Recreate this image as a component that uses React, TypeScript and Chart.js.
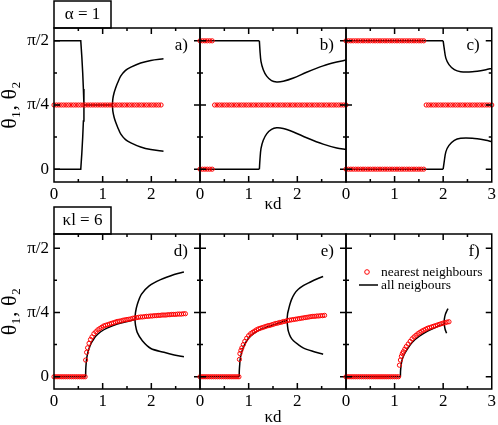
import React, { useEffect, useRef } from 'react';
import { Chart, registerables } from 'chart.js';

Chart.register(...registerables);

type Pt = [number, number];

const SERIF = '"Liberation Serif", "Times New Roman", Times, serif';

// ---------- tick labels / texts ----------
const xTickValues = [0, 1, 2, 3];
const xTickText = ['0', '1', '2', '3'];
const yTickValues = [0, 1, 2]; // in units of pi/4
const yTickText = ['0', 'π/4', 'π/2'];
const xTickMarks = [0.5, 1, 1.5, 2, 2.5];
const yTickMarks = [0, 0.5, 1, 1.5, 2];
const panelLabels = ['a)', 'b)', 'c)', 'd)', 'e)', 'f)'];
const boxLabels = ['α = 1', 'κl = 6'];
const legendLabels = ['nearest neighbours', 'all neigbours'];
const xTitle = 'κd';
const yTitle = 'θ₁, θ₂';

// ---------- panel a (alpha = 1) ----------
const aRedX = [0, 0.05, 0.1, 0.15, 0.2, 0.25, 0.3, 0.35, 0.4, 0.45, 0.5, 0.55, 0.6, 0.65, 0.7, 0.75, 0.8, 0.85, 0.9, 0.95, 1, 1.05, 1.1, 1.15, 1.2, 1.25, 1.3, 1.35, 1.4, 1.45, 1.5, 1.55, 1.6, 1.65, 1.7, 1.75, 1.8, 1.85, 1.9, 1.95, 2, 2.05, 2.1, 2.15, 2.2];
const aBlackTop: Pt[] = [[0, 2], [0.55, 2], [0.572, 1.75], [0.59, 1.5], [0.604, 1.25], [0.615, 1]];
const aBlackBottom: Pt[] = [[0, 0], [0.55, 0], [0.572, 0.25], [0.59, 0.5], [0.604, 0.75], [0.615, 1]];
const aBlackMid: Pt[] = [[0.615, 1], [1.2, 1]];
const aBranchTop: Pt[] = [[1.2, 1], [1.21, 1.1], [1.235, 1.19], [1.268, 1.27], [1.31, 1.35], [1.37, 1.45], [1.47, 1.54], [1.58, 1.59], [1.78, 1.655], [1.99, 1.695], [2.25, 1.72]];
const aBranchBottom: Pt[] = [[1.2, 1], [1.21, 0.9], [1.235, 0.81], [1.268, 0.73], [1.31, 0.65], [1.37, 0.55], [1.47, 0.46], [1.58, 0.41], [1.78, 0.345], [1.99, 0.305], [2.25, 0.28]];

// ---------- panel b ----------
const bRedEdgeX = [0, 0.05, 0.1, 0.15, 0.2, 0.25];
const bRedMidX = [0.3, 0.35, 0.4, 0.45, 0.5, 0.55, 0.6, 0.65, 0.7, 0.75, 0.8, 0.85, 0.9, 0.95, 1, 1.05, 1.1, 1.15, 1.2, 1.25, 1.3, 1.35, 1.4, 1.45, 1.5, 1.55, 1.6, 1.65, 1.7, 1.75, 1.8, 1.85, 1.9, 1.95, 2, 2.05, 2.1, 2.15, 2.2, 2.25, 2.3, 2.35, 2.4, 2.45, 2.5, 2.55, 2.6, 2.65, 2.7, 2.75, 2.8, 2.85, 2.9, 2.95, 3];
const bFlatTop: Pt[] = [[0, 2], [1.22, 2]];
const bFlatBottom: Pt[] = [[0, 0], [1.22, 0]];
const bCurveTop: Pt[] = [[1.22, 2], [1.233, 1.84], [1.253, 1.68], [1.3, 1.55], [1.37, 1.45], [1.47, 1.38], [1.575, 1.36], [1.71, 1.37], [1.92, 1.42], [2.19, 1.51], [2.53, 1.61], [2.81, 1.67], [3, 1.7]];
const bCurveBottom: Pt[] = [[1.22, 0], [1.233, 0.16], [1.253, 0.32], [1.3, 0.45], [1.37, 0.55], [1.47, 0.62], [1.575, 0.645], [1.71, 0.635], [1.92, 0.58], [2.19, 0.49], [2.53, 0.39], [2.81, 0.33], [3, 0.31]];

// ---------- panel c ----------
const cRedEdgeX = [0, 0.05, 0.1, 0.15, 0.2, 0.25, 0.3, 0.35, 0.4, 0.45, 0.5, 0.55, 0.6, 0.65, 0.7, 0.75, 0.8, 0.85, 0.9, 0.95, 1, 1.05, 1.1, 1.15, 1.2, 1.25, 1.3, 1.35, 1.4, 1.45, 1.5, 1.55, 1.6];
const cRedMidX = [1.65, 1.7, 1.75, 1.8, 1.85, 1.9, 1.95, 2, 2.05, 2.1, 2.15, 2.2, 2.25, 2.3, 2.35, 2.4, 2.45, 2.5, 2.55, 2.6, 2.65, 2.7, 2.75, 2.8, 2.85, 2.9, 2.95, 3];
const cFlatTop: Pt[] = [[0, 2], [2.0, 2]];
const cFlatBottom: Pt[] = [[0, 0], [2.0, 0]];
const cCurveTop: Pt[] = [[2.0, 2], [2.02, 1.89], [2.055, 1.73], [2.12, 1.63], [2.23, 1.55], [2.36, 1.52], [2.6, 1.52], [2.88, 1.55], [3, 1.57]];
const cCurveBottom: Pt[] = [[2.0, 0], [2.02, 0.11], [2.055, 0.27], [2.12, 0.37], [2.23, 0.45], [2.36, 0.48], [2.6, 0.48], [2.88, 0.45], [3, 0.43]];

// ---------- panel d (kappa l = 6) ----------
const dRedFlatX = [0, 0.04, 0.08, 0.12, 0.16, 0.2, 0.24, 0.28, 0.32, 0.36, 0.4, 0.44, 0.48, 0.52, 0.56, 0.6, 0.64];
const dRedRise: Pt[] = [[0.65, 0.26], [0.67, 0.38], [0.69, 0.45], [0.72, 0.52], [0.75, 0.58], [0.78, 0.62], [0.82, 0.67], [0.86, 0.7], [0.9, 0.73], [0.94, 0.75], [0.98, 0.77], [1.02, 0.79], [1.06, 0.8], [1.1, 0.81], [1.14, 0.82], [1.18, 0.83], [1.22, 0.84], [1.26, 0.85], [1.3, 0.86], [1.34, 0.865], [1.38, 0.87], [1.42, 0.88], [1.46, 0.885], [1.5, 0.89], [1.54, 0.895], [1.58, 0.9], [1.62, 0.91], [1.66, 0.915], [1.7, 0.92], [1.74, 0.925], [1.78, 0.93], [1.82, 0.93], [1.86, 0.935], [1.9, 0.94], [1.94, 0.94], [1.98, 0.945], [2.02, 0.945], [2.06, 0.95], [2.1, 0.95], [2.14, 0.955], [2.18, 0.955], [2.22, 0.96], [2.26, 0.96], [2.3, 0.96], [2.34, 0.965], [2.38, 0.965], [2.42, 0.97], [2.46, 0.97], [2.5, 0.97], [2.54, 0.975], [2.58, 0.975], [2.62, 0.975], [2.66, 0.98], [2.7, 0.98]];
const dBlackFlat: Pt[] = [[0, 0], [0.65, 0]];
const dBlackRise: Pt[] = [[0.65, 0], [0.652, 0.1], [0.66, 0.2], [0.675, 0.3], [0.7, 0.39], [0.735, 0.47], [0.77, 0.53], [0.81, 0.58], [0.856, 0.63], [0.96, 0.7], [1.1, 0.76], [1.3, 0.82], [1.51, 0.86], [1.665, 0.89]];
const dBranch: Pt[] = [[2.67, 0.31], [2.47, 0.34], [2.26, 0.38], [1.99, 0.44], [1.815, 0.56], [1.71, 0.69], [1.675, 0.8], [1.665, 0.89], [1.675, 1.0], [1.71, 1.12], [1.795, 1.28], [1.95, 1.41], [2.19, 1.51], [2.47, 1.59], [2.67, 1.63]];

// ---------- panel e ----------
const eRedFlatX = [0, 0.04, 0.08, 0.12, 0.16, 0.2, 0.24, 0.28, 0.32, 0.36, 0.4, 0.44, 0.48, 0.52, 0.56, 0.6, 0.64, 0.68, 0.72, 0.76, 0.8];
const eRedRise: Pt[] = [[0.81, 0.27], [0.82, 0.36], [0.84, 0.41], [0.86, 0.45], [0.89, 0.5], [0.92, 0.55], [0.96, 0.6], [1.0, 0.64], [1.04, 0.67], [1.08, 0.69], [1.12, 0.71], [1.16, 0.73], [1.2, 0.745], [1.24, 0.755], [1.28, 0.765], [1.32, 0.775], [1.36, 0.785], [1.4, 0.795], [1.44, 0.8], [1.48, 0.81], [1.52, 0.82], [1.56, 0.83], [1.6, 0.835], [1.64, 0.845], [1.68, 0.85], [1.72, 0.86], [1.76, 0.865], [1.8, 0.875], [1.84, 0.88], [1.88, 0.885], [1.92, 0.89], [1.96, 0.895], [2.0, 0.9], [2.04, 0.905], [2.08, 0.91], [2.12, 0.915], [2.16, 0.92], [2.2, 0.925], [2.24, 0.93], [2.28, 0.935], [2.32, 0.94], [2.36, 0.94], [2.4, 0.945], [2.44, 0.945], [2.48, 0.95], [2.52, 0.95], [2.56, 0.955]];
const eBlackFlat: Pt[] = [[0, 0], [0.805, 0]];
const eBlackRise: Pt[] = [[0.805, 0], [0.808, 0.1], [0.815, 0.18], [0.825, 0.27], [0.856, 0.38], [0.91, 0.49], [0.99, 0.59], [1.1, 0.67], [1.23, 0.73], [1.44, 0.79], [1.64, 0.84], [1.79, 0.88]];
const eBranch: Pt[] = [[2.53, 0.35], [2.3, 0.4], [2.12, 0.45], [2.02, 0.5], [1.92, 0.56], [1.86, 0.62], [1.815, 0.71], [1.8, 0.78], [1.79, 0.88], [1.8, 0.98], [1.815, 1.03], [1.845, 1.12], [1.88, 1.2], [1.94, 1.29], [2.02, 1.36], [2.13, 1.42], [2.26, 1.47], [2.4, 1.52], [2.53, 1.56]];

// ---------- panel f ----------
const fRedFlatX = [0, 0.04, 0.08, 0.12, 0.16, 0.2, 0.24, 0.28, 0.32, 0.36, 0.4, 0.44, 0.48, 0.52, 0.56, 0.6, 0.64, 0.68, 0.72, 0.76, 0.8, 0.84, 0.88, 0.92, 0.96, 1.0, 1.04, 1.08];
const fRedRise: Pt[] = [[1.1, 0.18], [1.12, 0.26], [1.14, 0.32], [1.16, 0.36], [1.18, 0.39], [1.21, 0.43], [1.24, 0.47], [1.28, 0.51], [1.32, 0.55], [1.36, 0.59], [1.4, 0.62], [1.44, 0.645], [1.48, 0.67], [1.52, 0.69], [1.56, 0.71], [1.6, 0.725], [1.64, 0.74], [1.68, 0.755], [1.72, 0.765], [1.76, 0.775], [1.8, 0.785], [1.84, 0.795], [1.88, 0.805], [1.92, 0.815], [1.96, 0.825], [2.0, 0.835], [2.04, 0.84], [2.08, 0.85], [2.12, 0.855]];
const fBlackFlat: Pt[] = [[0, 0], [1.12, 0]];
const fBlackRise: Pt[] = [[1.12, 0], [1.122, 0.08], [1.13, 0.15], [1.15, 0.25], [1.2, 0.35], [1.27, 0.44], [1.37, 0.54], [1.51, 0.63], [1.68, 0.71], [1.85, 0.77], [2.02, 0.82]];
const fBranch: Pt[] = [[2.07, 0.675], [2.04, 0.74], [2.025, 0.8], [2.02, 0.84], [2.025, 0.9], [2.045, 0.97], [2.08, 1.03], [2.1, 1.06]];

// ---------- layout ----------
const W = 498;
const H = 425;
const COLS: [number, number][] = [[54, 200], [200, 346], [346, 492]];
const ROWS = [
  { top: 28, bottom: 182, ymin: -0.2, ymax: 2.2, titlePad: 3.4, padBottom: 207 },
  { top: 234, bottom: 389, ymin: -0.19, ymax: 2.22, titlePad: -2.6, padBottom: 0 },
];
const YW = 54;
const XH = 36;

interface LineDef { pts: Pt[]; tension: number }
interface PanelDef { col: number; row: number; reds: Pt[][]; lines: LineDef[] }

const withY = (xs: number[], y: number): Pt[] => xs.map((x) => [x, y] as Pt);

const PANELS: PanelDef[] = [
  {
    col: 0, row: 0,
    reds: [withY(aRedX, 1)],
    lines: [
      { pts: aBlackTop, tension: 0 }, { pts: aBlackBottom, tension: 0 }, { pts: aBlackMid, tension: 0 },
      { pts: aBranchTop, tension: 0.3 }, { pts: aBranchBottom, tension: 0.3 },
    ],
  },
  {
    col: 1, row: 0,
    reds: [withY(bRedEdgeX, 2), withY(bRedEdgeX, 0), withY(bRedMidX, 1)],
    lines: [
      { pts: bFlatTop, tension: 0 }, { pts: bFlatBottom, tension: 0 },
      { pts: bCurveTop, tension: 0.3 }, { pts: bCurveBottom, tension: 0.3 },
    ],
  },
  {
    col: 2, row: 0,
    reds: [withY(cRedEdgeX, 2), withY(cRedEdgeX, 0), withY(cRedMidX, 1)],
    lines: [
      { pts: cFlatTop, tension: 0 }, { pts: cFlatBottom, tension: 0 },
      { pts: cCurveTop, tension: 0.3 }, { pts: cCurveBottom, tension: 0.3 },
    ],
  },
  {
    col: 0, row: 1,
    reds: [withY(dRedFlatX, 0), dRedRise],
    lines: [{ pts: dBlackFlat, tension: 0 }, { pts: dBlackRise, tension: 0.3 }, { pts: dBranch, tension: 0.3 }],
  },
  {
    col: 1, row: 1,
    reds: [withY(eRedFlatX, 0), eRedRise],
    lines: [{ pts: eBlackFlat, tension: 0 }, { pts: eBlackRise, tension: 0.3 }, { pts: eBranch, tension: 0.3 }],
  },
  {
    col: 2, row: 1,
    reds: [withY(fRedFlatX, 0), fRedRise],
    lines: [{ pts: fBlackFlat, tension: 0 }, { pts: fBlackRise, tension: 0.3 }, { pts: fBranch, tension: 0.3 }],
  },
];

const RED = '#ff0000';
const POINT_R = 2.1;
const TICK_FONT = 17;

function decoPlugin(index: number, p: PanelDef) {
  return {
    id: 'deco' + index,
    afterDatasetsDraw(chart: any) {
      const { ctx, chartArea: ca, scales } = chart;
      const xs = scales.x;
      const ys = scales.y;
      ctx.save();
      ctx.strokeStyle = '#000';
      ctx.lineWidth = 1.5;
      ctx.strokeRect(ca.left, ca.top, ca.right - ca.left, ca.bottom - ca.top);
      ctx.beginPath();
      xTickMarks.forEach((v) => {
        const px = xs.getPixelForValue(v);
        const len = Number.isInteger(v) ? 6 : 3;
        ctx.moveTo(px, ca.bottom);
        ctx.lineTo(px, ca.bottom - len);
        ctx.moveTo(px, ca.top);
        ctx.lineTo(px, ca.top + len);
      });
      yTickMarks.forEach((v) => {
        const py = ys.getPixelForValue(v);
        const len = Number.isInteger(v) ? 6 : 3;
        ctx.moveTo(ca.left, py);
        ctx.lineTo(ca.left + len, py);
        ctx.moveTo(ca.right, py);
        ctx.lineTo(ca.right - len, py);
      });
      ctx.stroke();

      // panel label
      ctx.fillStyle = '#000';
      ctx.font = `17px ${SERIF}`;
      ctx.textAlign = 'right';
      ctx.textBaseline = 'middle';
      ctx.fillText(panelLabels[index], ca.right - 12, ca.top + 18);

      // parameter box
      if (p.col === 0) {
        ctx.lineWidth = 1.5;
        ctx.strokeRect(ca.left, ca.top - 27, 57, 27);
        ctx.font = `17px ${SERIF}`;
        ctx.textAlign = 'center';
        ctx.fillText(boxLabels[p.row], ca.left + 28.5, ca.top - 13);
      }

      // legend
      if (index === 5) {
        const lx = ca.left;
        const ly = ca.top;
        ctx.strokeStyle = RED;
        ctx.lineWidth = 1;
        ctx.beginPath();
        ctx.arc(lx + 21, ly + 38, 2.3, 0, Math.PI * 2);
        ctx.stroke();
        ctx.strokeStyle = '#000';
        ctx.lineWidth = 1.5;
        ctx.beginPath();
        ctx.moveTo(lx + 13, ly + 51);
        ctx.lineTo(lx + 32, ly + 51);
        ctx.stroke();
        ctx.font = `13.5px ${SERIF}`;
        ctx.textAlign = 'left';
        ctx.fillStyle = '#000';
        ctx.fillText(legendLabels[0], lx + 35, ly + 38);
        ctx.fillText(legendLabels[1], lx + 35, ly + 51);
      }
      ctx.restore();
    },
  };
}

function buildConfig(index: number, p: PanelDef): any {
  const [L, R] = COLS[p.col];
  const row = ROWS[p.row];
  const showY = p.col === 0;
  const showXTitle = p.col === 1;
  const lastCol = p.col === 2;

  const datasets: any[] = [];
  p.reds.forEach((pts) => {
    datasets.push({
      data: pts.map(([x, y]) => ({ x, y })),
      showLine: false,
      pointStyle: 'circle',
      pointRadius: POINT_R,
      borderWidth: 1,
      borderColor: RED,
      backgroundColor: 'rgba(0,0,0,0)',
      pointBackgroundColor: 'rgba(0,0,0,0)',
      clip: false,
    });
  });
  p.lines.forEach((l) => {
    datasets.push({
      data: l.pts.map(([x, y]) => ({ x, y })),
      showLine: true,
      pointRadius: 0,
      borderColor: '#000',
      borderWidth: 1.5,
      tension: l.tension,
      fill: false,
    });
  });

  return {
    type: 'scatter',
    data: { datasets },
    options: {
      animation: false,
      responsive: false,
      maintainAspectRatio: false,
      devicePixelRatio: 1,
      events: [],
      layout: {
        padding: { left: showY ? L - YW : L, right: W - R, top: row.top, bottom: row.padBottom },
      },
      plugins: { legend: { display: false }, tooltip: { enabled: false }, title: { display: false } },
      scales: {
        x: {
          type: 'linear',
          position: 'bottom',
          min: 0,
          max: 3,
          afterBuildTicks: (s: any) => {
            s.ticks = xTickValues.filter((v) => lastCol || v < 3).map((v) => ({ value: v }));
          },
          afterFit: (s: any) => {
            s.height = XH;
          },
          grid: { display: false, drawTicks: false },
          border: { display: false },
          ticks: {
            autoSkip: false,
            maxRotation: 0,
            padding: 2,
            color: '#000',
            font: { family: SERIF, size: TICK_FONT },
            callback: (v: number) => xTickText[xTickValues.indexOf(v)],
          },
          title: {
            display: showXTitle,
            text: xTitle,
            color: '#000',
            font: { family: SERIF, size: TICK_FONT },
            padding: { top: 0, bottom: row.titlePad - 0.6 },
          },
        },
        y: {
          type: 'linear',
          position: 'left',
          min: row.ymin,
          max: row.ymax,
          display: showY,
          afterBuildTicks: (s: any) => {
            s.ticks = yTickValues.map((v) => ({ value: v }));
          },
          afterFit: (s: any) => {
            if (showY) s.width = YW;
          },
          grid: { display: false, drawTicks: false },
          border: { display: false },
          ticks: {
            autoSkip: false,
            padding: 5,
            color: '#000',
            font: { family: SERIF, size: TICK_FONT },
            callback: (v: number) => yTickText[yTickValues.indexOf(v)],
          },
          title: {
            display: showY,
            text: yTitle,
            color: '#000',
            font: { family: SERIF, size: 22 },
            padding: { top: -3, bottom: 0 },
          },
        },
      },
    },
    plugins: [decoPlugin(index, p)],
  };
}

function Panel({ index, def }: { index: number; def: PanelDef }) {
  const ref = useRef<HTMLCanvasElement>(null);
  useEffect(() => {
    if (!ref.current) return;
    const chart = new Chart(ref.current, buildConfig(index, def));
    return () => chart.destroy();
  }, [index, def]);
  return (
    <canvas
      ref={ref}
      width={W}
      height={H}
      style={{ position: 'absolute', left: 0, top: 0, width: W, height: H }}
    />
  );
}

export default function App() {
  return (
    <div
      style={{
        position: 'fixed',
        left: 0,
        top: 0,
        width: W,
        height: H,
        background: '#ffffff',
        overflow: 'hidden',
      }}
    >
      {PANELS.map((p, i) => (
        <Panel key={i} index={i} def={p} />
      ))}
    </div>
  );
}
